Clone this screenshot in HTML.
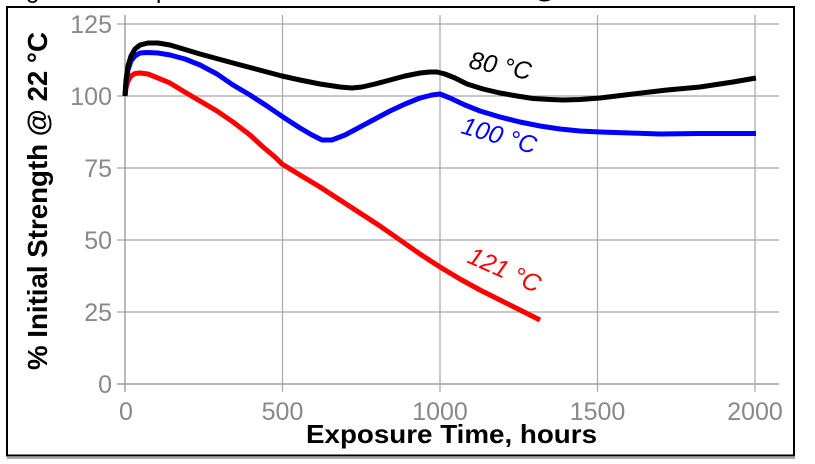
<!DOCTYPE html>
<html>
<head>
<meta charset="utf-8">
<style>
  html, body { margin: 0; padding: 0; background: #ffffff; }
  body { width: 815px; height: 464px; overflow: hidden; }
  svg { display: block; }
  text { font-family: "Liberation Sans", Arial, sans-serif; }
</style>
</head>
<body>
<svg width="815" height="464" viewBox="0 0 815 464" xmlns="http://www.w3.org/2000/svg">
  <rect x="0" y="0" width="815" height="464" fill="#ffffff"/>

  <!-- clipped title remnants at top -->
  <text x="26" y="-2" font-size="24" fill="#000">g</text>
  <text x="156" y="-2" font-size="24" fill="#000">p</text>
  <text x="533" y="-2" font-size="24" fill="#000">@</text>

  <!-- outer frame -->
  <rect x="7" y="7" width="787" height="448.5" fill="none" stroke="#000" stroke-width="2"/>
  <line x1="7" y1="458" x2="795" y2="458" stroke="#555" stroke-width="1"/>

  <!-- horizontal gridlines -->
  <g stroke="#a6a6a6" stroke-width="1.2">
    <line x1="117" y1="24" x2="779" y2="24"/>
    <line x1="117" y1="96" x2="779" y2="96"/>
    <line x1="117" y1="168" x2="779" y2="168"/>
    <line x1="117" y1="240" x2="779" y2="240"/>
    <line x1="117" y1="312" x2="779" y2="312"/>
    <line x1="117" y1="384" x2="779" y2="384" stroke="#8c8c8c"/>
  </g>
  <!-- vertical gridlines -->
  <g stroke="#a6a6a6" stroke-width="1.2">
    <line x1="125" y1="15" x2="125" y2="392" stroke="#8c8c8c"/>
    <line x1="282.5" y1="15" x2="282.5" y2="392"/>
    <line x1="440" y1="15" x2="440" y2="392"/>
    <line x1="597.5" y1="15" x2="597.5" y2="392"/>
    <line x1="755" y1="15" x2="755" y2="392"/>
  </g>

  <!-- y tick labels -->
  <g font-size="25" fill="#888888" text-anchor="end">
    <text x="112" y="33">125</text>
    <text x="112" y="105">100</text>
    <text x="112" y="177">75</text>
    <text x="112" y="249">50</text>
    <text x="112" y="321">25</text>
    <text x="112" y="393">0</text>
  </g>
  <!-- x tick labels -->
  <g font-size="25" fill="#888888" text-anchor="middle">
    <text x="126" y="420">0</text>
    <text x="282.5" y="420">500</text>
    <text x="440" y="420">1000</text>
    <text x="597.5" y="420">1500</text>
    <text x="755" y="420">2000</text>
  </g>

  <!-- axis titles -->
  <text x="306" y="443" font-size="26" font-weight="bold" fill="#000" textLength="291" lengthAdjust="spacingAndGlyphs">Exposure Time, hours</text>
  <text transform="translate(47,370) rotate(-90)" x="0" y="0" font-size="28" font-weight="bold" fill="#000" textLength="338" lengthAdjust="spacingAndGlyphs">% Initial Strength @ 22 °C</text>

  <!-- series -->
  <g fill="none" stroke-width="5" stroke-linejoin="round" stroke-linecap="butt">
    <polyline stroke="#ff0000" points="125,96 126,88 128,81 131,76 135,73.5 140,73 148,74 158,78 170,83 183,91 200,101 217,111 233,122 250,135 263,147 275,157 282,164 300,175 320,187 340,200 360,213 380,226 400,240 420,254 440,267 460,279 480,290 500,300 520,310 540,320"/>
    <polyline stroke="#0000ff" points="125,96 126,82 128,70 131,61 135,56 140,53 147,52.5 158,53 170,55 185,59 200,65 217,74 233,85 250,95 267,106 283,117 300,128 312,135 322,140 332,140 345,135 360,127 375,119 390,111 405,104 420,98 432,95 440,94 450,98 465,105 480,111 500,117 520,122 540,126 560,129 580,131 600,132 630,133 660,134 700,133.5 756,133.5"/>
    <polyline stroke="#000000" points="125,96 126,80 128,66 131,56 135,49 140,45 148,43 158,43 170,45 200,54 233,63 267,72 282,76 300,80 320,84 340,87 352,88 362,87 375,84 390,80 405,76 420,73 430,72 437,72 445,74 455,78 467,84 483,89 500,93 517,96 533,98.5 550,99.5 563,100 580,99.5 600,98 633,94 667,90 700,87 733,82 756,78"/>
  </g>

  <!-- series labels -->
  <text transform="translate(468,68) rotate(11)" font-size="25" font-style="italic" fill="#000">80 °C</text>
  <text transform="translate(460,133) rotate(16)" font-size="25" font-style="italic" fill="#0000ff">100 °C</text>
  <text transform="translate(466,262) rotate(24)" font-size="25" font-style="italic" fill="#ff0000">121 °C</text>
</svg>
</body>
</html>
